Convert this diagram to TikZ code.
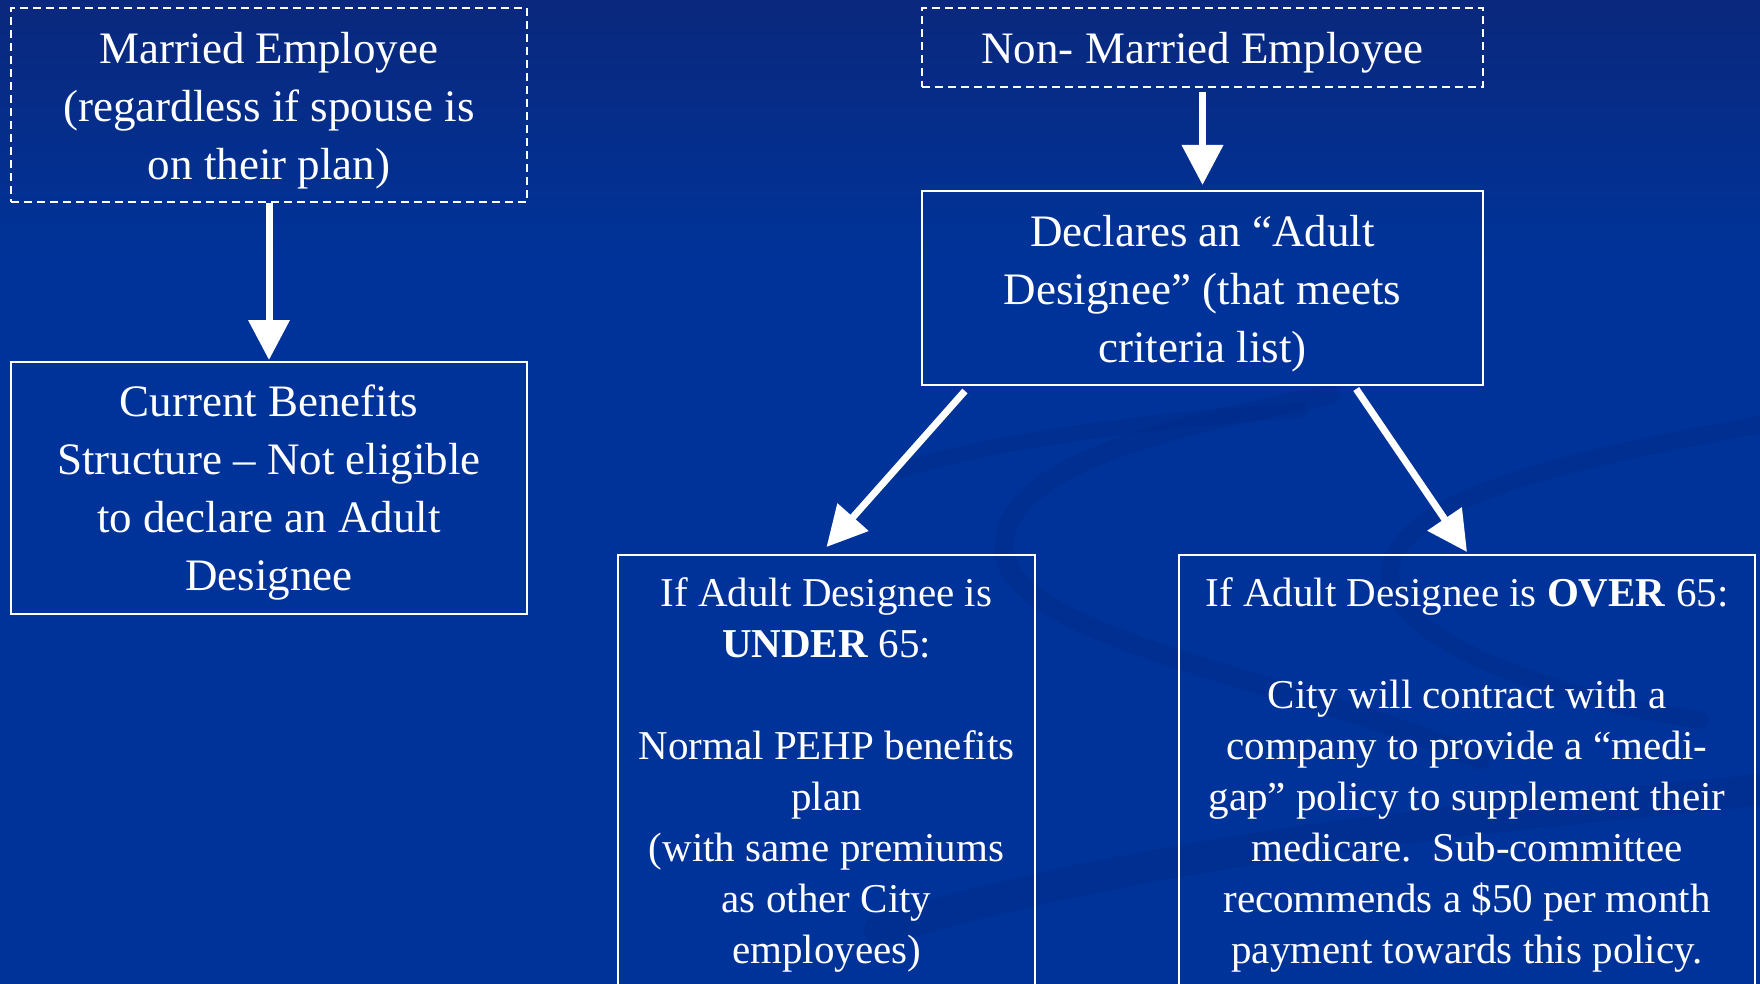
\documentclass[tikz,border=0pt]{standalone}
\usepackage{fontspec}
\setmainfont{Liberation Serif}
\usetikzlibrary{arrows.meta,calc}
\definecolor{bgtop}{RGB}{10,40,125}
\definecolor{bgmain}{RGB}{0,51,153}
\definecolor{swirl}{RGB}{0,38,128}
\begin{document}
\begin{tikzpicture}[x=0.5pt,y=-0.5pt,
  box/.style={draw=white, line width=1pt, inner sep=0pt, anchor=center},
  dbox/.style={box, dash pattern=on 4pt off 2.5pt},
  big/.style={font=\fontsize{22.5}{29}\selectfont, align=center, text=white, inner sep=0pt},
  small/.style={font=\fontsize{20.5}{25.5}\selectfont, align=center, text=white, anchor=north, inner sep=0pt},
  arr/.style={draw=white, line width=3.5pt, -{Triangle[width=20pt,length=20pt]}}]
\useasboundingbox (0,0) rectangle (1760,984);
\clip (0,0) rectangle (1760,984);
% background
\fill[bgmain] (0,0) rectangle (1760,984);
\shade[top color=bgtop, bottom color=bgmain] (0,0) rectangle (1760,260);
% faint swirls
\begin{scope}[draw=swirl, opacity=0.25, line cap=round]
  \draw[line width=10pt] (1330,395) .. controls (1150,430) and (1000,470) .. (1004,550)
        .. controls (1010,640) and (1300,680) .. (1480,760);
  \draw[line width=9pt] (1760,425) .. controls (1560,460) and (1400,500) .. (1390,570)
        .. controls (1385,640) and (1560,700) .. (1700,720);
  \draw[line width=16pt] (880,930) .. controls (1150,850) and (1450,820) .. (1760,790);
  \draw[line width=8pt] (900,470) .. controls (1000,440) and (1150,420) .. (1300,410);
\end{scope}
% boxes
\node[dbox, minimum width=258pt, minimum height=97pt] (married) at (269,105) {};
\node[big] (marriedtext) at (269,111)
  {Married Employee\\(regardless if spouse is\\on their plan)};
\node[box, minimum width=258pt, minimum height=126pt] (current) at (269,488) {};
\node[big] (currenttext) at (269,493)
  {Current Benefits\\Structure -- Not eligible\\to declare an Adult\\Designee};
\node[dbox, minimum width=280.5pt, minimum height=39.5pt] (nonmarried) at (1202.5,47.5) {};
\node[big] (nonmarriedtext) at (1202.5,53) {Non- Married Employee};
\node[box, minimum width=280.5pt, minimum height=97pt] (decl) at (1202.5,288) {};
\node[big] (decltext) at (1202.5,294)
  {Declares an “Adult\\Designee” (that meets\\criteria list)};
\node[box, minimum width=208.5pt, minimum height=222.5pt] (under) at (826.5,777.5) {};
\node[box, minimum width=288pt, minimum height=222.5pt] (over) at (1467,777.5) {};
\node[small] (undertext) at (826.5,577)
  {If Adult Designee is\\\textbf{UNDER} 65:\\[25.5pt]Normal PEHP benefits\\plan\\(with same premiums\\as other City\\employees)};
\node[small] (overtext) at (1467,577)
  {If Adult Designee is \textbf{OVER} 65:\\[25.5pt]City will contract with a\\company to provide a “medi-\\gap” policy to supplement their\\medicare.\ \ Sub-committee\\recommends a \$50 per month\\payment towards this policy.};
% arrows
\draw[arr] (married.south) -- ([yshift=0.5pt]current.north);
\draw[arr] ([yshift=-2pt]nonmarried.south) -- ([yshift=2.5pt]decl.north);
\draw[arr] ($(decl.south west)!0.078!(decl.south east)+(0,5)$) -- ($(under.north)+(0,-7)$);
\draw[arr] ($(decl.south west)!0.773!(decl.south east)+(0,3)$) -- ($(over.north)+(0,-2)$);
\end{tikzpicture}
\end{document}
